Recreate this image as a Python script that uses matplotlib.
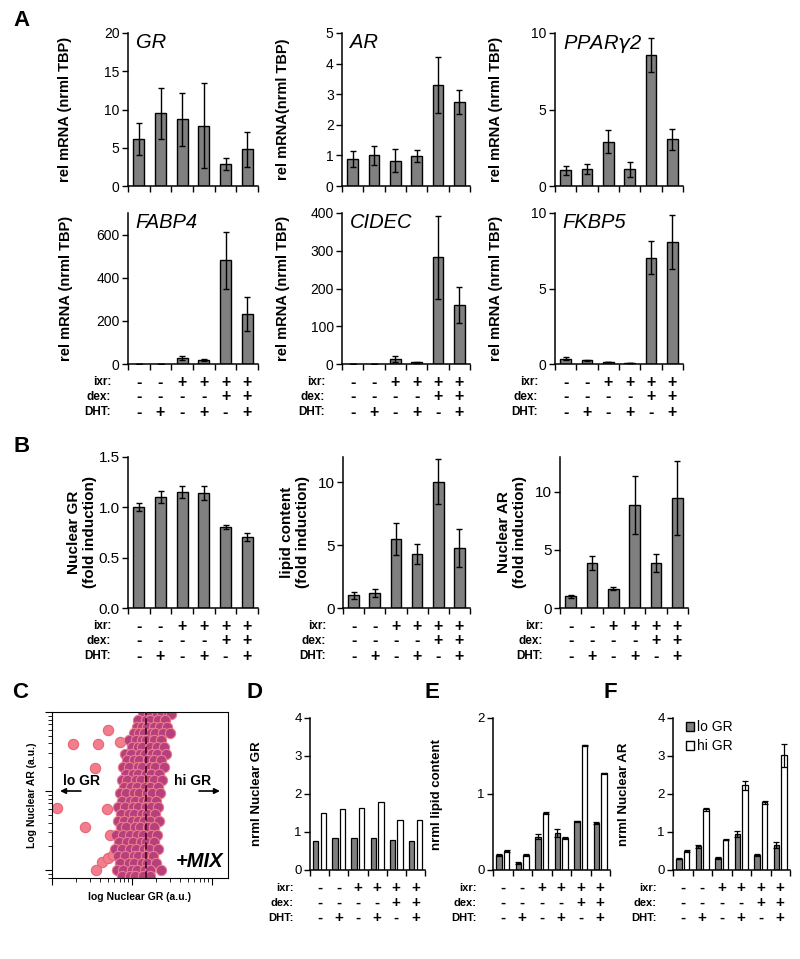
import matplotlib
matplotlib.use("Agg")
import matplotlib.pyplot as plt
from matplotlib import transforms
from matplotlib.patches import Patch
import numpy as np

plt.rcParams["font.family"] = ["Liberation Sans", "DejaVu Sans"]

W, H = 800, 959
BAR = "#808080"

# treatment table shared by every bar panel
IXR = ["-", "-", "+", "+", "+", "+"]
DEX = ["-", "-", "-", "-", "+", "+"]
DHT = ["-", "+", "-", "+", "-", "+"]

# panel A, qPCR
GR_M = [6.2, 9.5, 8.7, 7.9, 2.9, 4.8]
GR_E = [2.1, 3.3, 3.5, 5.6, 0.8, 2.3]
AR_M = [0.88, 1.0, 0.83, 0.97, 3.3, 2.75]
AR_E = [0.27, 0.3, 0.38, 0.2, 0.92, 0.4]
PPAR_M = [1.03, 1.14, 2.9, 1.1, 8.56, 3.04]
PPAR_E = [0.28, 0.33, 0.75, 0.5, 1.1, 0.7]
FABP4_M = [1, 1, 28, 18, 480, 232]
FABP4_E = [0, 0, 8, 6, 132, 80]
CIDEC_M = [0.5, 0.5, 13, 4, 283, 157]
CIDEC_E = [0, 0, 9, 1, 110, 48]
FKBP5_M = [0.35, 0.24, 0.13, 0.07, 7.03, 8.07]
FKBP5_E = [0.1, 0.05, 0.03, 0.01, 1.1, 1.8]

# panel B, imaging
NGR_M = [1.0, 1.1, 1.15, 1.14, 0.80, 0.71]
NGR_E = [0.04, 0.06, 0.06, 0.07, 0.02, 0.04]
LIP_M = [1.0, 1.2, 5.5, 4.3, 10.05, 4.74]
LIP_E = [0.25, 0.3, 1.28, 0.8, 1.8, 1.5]
NAR_M = [1.0, 3.86, 1.66, 8.86, 3.86, 9.46]
NAR_E = [0.1, 0.6, 0.15, 2.5, 0.8, 3.2]

# panels D-F, lo GR vs hi GR
D_LO = [0.76, 0.83, 0.84, 0.84, 0.78, 0.77]
D_HI = [1.51, 1.6, 1.63, 1.79, 1.32, 1.31]
E_LO = [0.2, 0.09, 0.44, 0.49, 0.64, 0.62]
E_HI = [0.25, 0.2, 0.75, 0.42, 1.64, 1.27]
E_LO_E = [0.01, 0.01, 0.03, 0.05, 0.01, 0.01]
E_HI_E = [0.01, 0.01, 0.01, 0.01, 0.01, 0.01]
F_LO = [0.3, 0.62, 0.32, 0.95, 0.4, 0.65]
F_HI = [0.5, 1.6, 0.8, 2.23, 1.78, 3.02]
F_LO_E = [0.02, 0.03, 0.02, 0.07, 0.02, 0.08]
F_HI_E = [0.02, 0.04, 0.02, 0.12, 0.03, 0.3]

# panel C scatter, log10 values (rows of cells in the dense core)
CORE_Y = [2.97, 2.9, 2.81, 2.73, 2.64, 2.56, 2.47, 2.39, 2.31, 2.22, 2.14,
          2.05, 1.97, 1.88, 1.8, 1.71, 1.62, 1.54, 1.45, 1.36, 1.27, 1.18,
          1.09, 1.0, 0.93]
CORE_X = [
    [2.14, 2.21, 2.31, 2.37, 2.45, 2.49],
    [2.08, 2.17, 2.22, 2.33, 2.41],
    [2.06, 2.12, 2.19, 2.27, 2.35, 2.44],
    [2.02, 2.09, 2.15, 2.24, 2.29, 2.39, 2.47],
    [1.96, 2.05, 2.13, 2.18, 2.28, 2.36],
    [2.0, 2.07, 2.12, 2.22, 2.31, 2.4],
    [1.91, 1.99, 2.1, 2.16, 2.25, 2.31, 2.42],
    [1.94, 2.03, 2.09, 2.2, 2.27, 2.36],
    [1.89, 1.96, 2.07, 2.13, 2.23, 2.29, 2.4],
    [1.92, 2.01, 2.08, 2.17, 2.24, 2.34],
    [1.87, 1.94, 2.05, 2.11, 2.21, 2.27, 2.37],
    [1.9, 1.99, 2.06, 2.16, 2.22, 2.32],
    [1.85, 1.92, 2.03, 2.09, 2.19, 2.25, 2.35],
    [1.88, 1.97, 2.04, 2.14, 2.2, 2.3],
    [1.83, 1.91, 2.01, 2.08, 2.17, 2.24, 2.33],
    [1.86, 1.96, 2.03, 2.12, 2.19, 2.29],
    [1.82, 1.9, 2.0, 2.07, 2.15, 2.23, 2.34],
    [1.86, 1.93, 2.04, 2.1, 2.2, 2.27],
    [1.8, 1.89, 1.97, 2.06, 2.14, 2.24, 2.31],
    [1.84, 1.94, 2.01, 2.11, 2.17, 2.28],
    [1.79, 1.88, 1.98, 2.05, 2.15, 2.21, 2.32],
    [1.83, 1.91, 2.02, 2.08, 2.18, 2.26],
    [1.85, 1.96, 2.03, 2.13, 2.19, 2.3],
    [1.81, 1.89, 2.0, 2.06, 2.16, 2.23, 2.36],
    [1.87, 1.98, 2.04, 2.14, 2.22],
]
OUT_X = [1.06, 1.26, 1.58, 1.70, 1.85, 1.54, 1.69, 1.41, 1.73, 1.63, 1.70, 1.76, 1.55]
OUT_Y = [1.79, 2.60, 2.60, 2.77, 2.62, 2.29, 1.77, 1.55, 1.44, 1.10, 1.15, 1.19, 1.00]
GR_CUT = 2.175

ROW_OFF = [18, 33, 48]   # px below axis for ixr / dex / DHT


def rect(x0, y0, x1, y1):
    return [x0 / W, 1 - y1 / H, (x1 - x0) / W, (y1 - y0) / H]


def style(ax, ylim, yticks, fmt="{:g}", fs=10):
    ax.set_ylim(*ylim)
    ax.set_yticks(yticks)
    ax.set_yticklabels([fmt.format(t) for t in yticks], fontsize=fs)
    ax.set_xlim(-0.5, 5.5)
    ax.set_xticks(np.arange(-0.5, 6, 1))
    ax.set_xticklabels([])
    ax.spines[["top", "right"]].set_visible(False)
    for s in ("left", "bottom"):
        ax.spines[s].set_linewidth(1.1)
    ax.tick_params(direction="out", length=4, width=1.0, pad=2)


def table(ax, sign_fs=11.5, lab_fs=8.5):
    tr = transforms.blended_transform_factory(ax.transData, ax.transAxes)
    for dy, name, signs in zip(ROW_OFF, ["ixr:", "dex:", "DHT:"], [IXR, DEX, DHT]):
        ax.annotate(name, xy=(0, 0), xycoords="axes fraction",
                    xytext=(-12, -dy * 0.72), textcoords="offset points",
                    ha="right", va="center", fontsize=lab_fs, fontweight="bold")
        for i, s in enumerate(signs):
            ax.annotate(s, xy=(i, 0), xycoords=tr, xytext=(0, -dy * 0.72),
                        textcoords="offset points", ha="center", va="center",
                        fontsize=sign_fs, fontweight="bold")


def bar_panel(box, m, e, ylim, yticks, ylabel, lx, gene=None, tab=True,
              fmt="{:g}", fs=10, lfs=10.5):
    ax = fig.add_axes(rect(*box))
    x = np.arange(len(m))
    ax.bar(x, m, width=0.5, color=BAR, edgecolor="black", linewidth=1.0, zorder=2)
    ax.errorbar(x, m, yerr=e, fmt="none", ecolor="black", elinewidth=1.0,
                capsize=2.5, capthick=1.0, zorder=3)
    style(ax, ylim, yticks, fmt, fs)
    ax.set_ylabel(ylabel, fontsize=lfs, fontweight="bold")
    ax.yaxis.set_label_coords(lx, 0.5)
    if gene:
        ax.text(0.06, 1.0, gene, transform=ax.transAxes, fontsize=14.5,
                style="italic", ha="left", va="top")
    if tab:
        table(ax)
    return ax


def pair_panel(box, lo, hi, lo_e, hi_e, ylim, yticks, ylabel, lx):
    ax = fig.add_axes(rect(*box))
    x = np.arange(len(lo))
    ax.bar(x - 0.2, lo, width=0.28, color=BAR, edgecolor="black", linewidth=0.9,
           label="lo GR", zorder=2)
    ax.bar(x + 0.2, hi, width=0.28, color="white", edgecolor="black", linewidth=0.9,
           label="hi GR", zorder=2)
    if lo_e is not None:
        ax.errorbar(x - 0.2, lo, yerr=lo_e, fmt="none", ecolor="black",
                    elinewidth=0.9, capsize=2, capthick=0.9, zorder=3)
        ax.errorbar(x + 0.2, hi, yerr=hi_e, fmt="none", ecolor="black",
                    elinewidth=0.9, capsize=2, capthick=0.9, zorder=3)
    style(ax, ylim, yticks, fs=9.5)
    ax.set_ylabel(ylabel, fontsize=9.5, fontweight="bold")
    ax.yaxis.set_label_coords(lx, 0.5)
    table(ax, sign_fs=11, lab_fs=8)
    return ax


fig = plt.figure(figsize=(W / 100, H / 100), dpi=100)

# ---- A
bar_panel((128, 33, 258, 186), GR_M, GR_E, (0, 20), [0, 5, 10, 15, 20],
          "rel mRNA (nrml TBP)", -0.43, "GR", tab=False)
bar_panel((342, 33, 470, 186), AR_M, AR_E, (0, 5), [0, 1, 2, 3, 4, 5],
          "rel mRNA(nrml TBP)", -0.41, "AR", tab=False)
bar_panel((555, 33, 683, 186), PPAR_M, PPAR_E, (0, 10), [0, 5, 10],
          "rel mRNA (nrml TBP)", -0.41, "PPAR$\\gamma$2", tab=False)
bar_panel((128, 213, 258, 364), FABP4_M, FABP4_E, (0, 700), [0, 200, 400, 600],
          "rel mRNA (nrml TBP)", -0.42, "FABP4")
bar_panel((342, 213, 470, 364), CIDEC_M, CIDEC_E, (0, 400), [0, 100, 200, 300, 400],
          "rel mRNA (nrml TBP)", -0.41, "CIDEC")
bar_panel((555, 213, 683, 364), FKBP5_M, FKBP5_E, (0, 10), [0, 5, 10],
          "rel mRNA (nrml TBP)", -0.41, "FKBP5")

# ---- B
bar_panel((128, 457, 258, 608), NGR_M, NGR_E, (0, 1.5), [0, 0.5, 1.0, 1.5],
          "Nuclear GR\n(fold induction)", -0.24, fmt="{:.1f}", fs=11, lfs=11)
bar_panel((343, 457, 470, 608), LIP_M, LIP_E, (0, 12), [0, 5, 10],
          "lipid content\n(fold induction)", -0.26, fs=11, lfs=11)
bar_panel((560, 457, 688, 608), NAR_M, NAR_E, (0, 13), [0, 5, 10],
          "Nuclear AR\n(fold induction)", -0.26, fs=11, lfs=11)

# ---- C
axc = fig.add_axes(rect(52, 712, 228, 878))
axc.set_xscale("log")
axc.set_yscale("log")
cx = [10 ** v for row in CORE_X for v in row]
cy = [10 ** y for y, row in zip(CORE_Y, CORE_X) for _ in row]
axc.scatter([10 ** v for v in OUT_X], [10 ** v for v in OUT_Y], s=55,
            facecolor="#f27d8d", edgecolor="#e86676", linewidth=0.8, zorder=2)
axc.scatter(cx, cy, s=55, facecolor="#b5407d", edgecolor="#ee7d8c",
            linewidth=0.8, zorder=2)
axc.axvline(10 ** GR_CUT, color="#4a0c28", ls="--", lw=1.3, zorder=3)
axc.set_xlim(10 ** 1.0, 10 ** 3.2)
axc.set_ylim(10 ** 0.9, 10 ** 3.0)
axc.tick_params(which="both", labelbottom=False, labelleft=False,
                direction="out", length=3)
axc.tick_params(which="major", length=5)
axc.set_ylabel("Log Nuclear AR (a.u.)", fontsize=7.5, fontweight="bold", labelpad=6)
axc.set_xlabel("log Nuclear GR (a.u.)", fontsize=7.5, fontweight="bold", labelpad=5)
axc.annotate("", xy=(0.03, 0.524), xytext=(0.18, 0.524), xycoords="axes fraction",
             arrowprops=dict(arrowstyle="-|>", color="black", lw=1.2,
                             mutation_scale=8))
axc.annotate("", xy=(0.97, 0.524), xytext=(0.82, 0.524), xycoords="axes fraction",
             arrowprops=dict(arrowstyle="-|>", color="black", lw=1.2,
                             mutation_scale=8))
axc.text(0.165, 0.585, "lo GR", transform=axc.transAxes, fontsize=10,
         fontweight="bold", ha="center", va="center")
axc.text(0.80, 0.585, "hi GR", transform=axc.transAxes, fontsize=10,
         fontweight="bold", ha="center", va="center")
axc.text(0.84, 0.10, "+MIX", transform=axc.transAxes, fontsize=14.5,
         fontweight="bold", style="italic", ha="center", va="center", zorder=4)

# ---- D-F
pair_panel((310, 718, 425, 870), D_LO, D_HI, None, None, (0, 4), [0, 1, 2, 3, 4],
           "nrml Nuclear GR", -0.41)
pair_panel((493, 718, 610, 870), E_LO, E_HI, E_LO_E, E_HI_E, (0, 2), [0, 1, 2],
           "nrml lipid content", -0.43)
axf = pair_panel((673, 718, 790, 870), F_LO, F_HI, F_LO_E, F_HI_E, (0, 4),
                 [0, 1, 2, 3, 4], "nrml Nuclear AR", -0.37)
axf.legend(handles=[Patch(facecolor=BAR, edgecolor="black", label="lo GR"),
                    Patch(facecolor="white", edgecolor="black", label="hi GR")],
           loc="upper left", bbox_to_anchor=(0.04, 1.04), frameon=False,
           fontsize=10, handlelength=0.6, handleheight=0.6, handletextpad=0.2,
           labelspacing=0.35, borderpad=0.1)

# panel letters
for lab, x, y in [("A", 22, 20), ("B", 22, 446), ("C", 20, 692),
                  ("D", 255, 692), ("E", 432, 692), ("F", 610, 692)]:
    fig.text(x / W, 1 - y / H, lab, fontsize=16, fontweight="bold",
             ha="center", va="center")

fig.savefig("out.png", dpi=100)
